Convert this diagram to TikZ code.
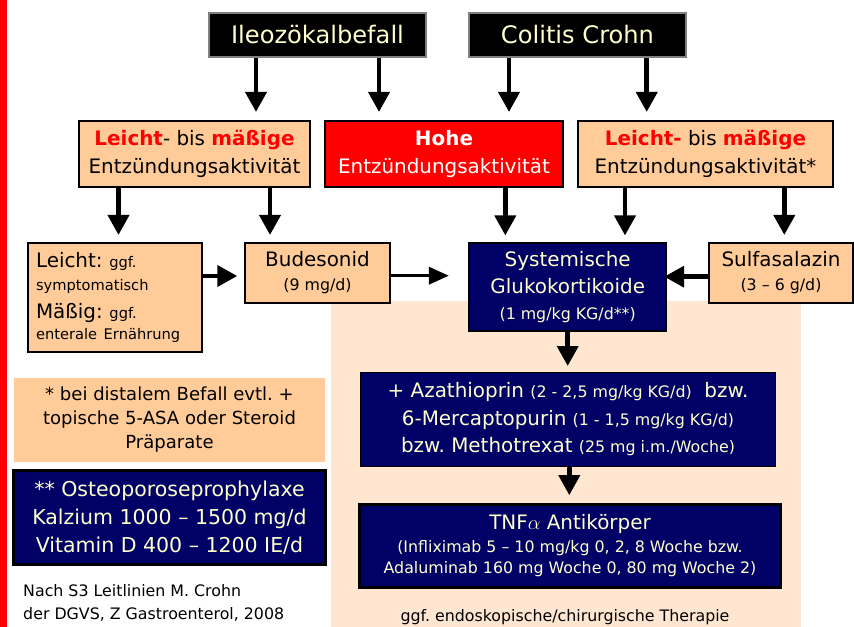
\documentclass[tikz,border=0pt]{standalone}
\usepackage{fontspec}
\setmainfont{DejaVu Sans}
\frenchspacing
\usepackage{amsmath}
\usepackage{xcolor}
\definecolor{pfirsich}{HTML}{FFCC99}
\definecolor{hellpfirsich}{HTML}{FEE6D0}
\definecolor{marine}{HTML}{000066}
\definecolor{hellgelb}{HTML}{FFFFCC}
\newcommand{\fsTitel}{\fontsize{20.6}{25}\selectfont}
\newcommand{\fsText}{\fontsize{17}{23.5}\selectfont}
\newcommand{\fsKlein}{\fontsize{13.5}{18}\selectfont}
\newcommand{\fsKleiner}{\fontsize{12.5}{17}\selectfont}
\newcommand{\fsNote}{\fontsize{15.4}{20.5}\selectfont}
\newcommand{\rotfett}[1]{\textcolor{red}{\textbf{#1}}}
\usepackage{tikz}
\usetikzlibrary{arrows.meta}

\begin{document}
\begin{tikzpicture}[
    x=0.3mm, y=-0.3mm,
    every node/.style={inner sep=0pt, align=center, font=\fsText},
    titel/.style={draw=gray, line width=0.7mm, fill=black, text=hellgelb,
      font=\fsTitel, minimum width=217*\px, minimum height=44*\px},
    stufe/.style={draw=black, line width=0.6mm, fill=pfirsich,
      minimum height=66*\px},
    therapie/.style={draw=black, line width=0.6mm, fill=pfirsich,
      minimum height=60*\px},
    dunkel/.style={draw=black, line width=0.6mm, fill=marine, text=hellgelb},
    pfeil/.style={line width=1.4mm, -{Triangle[width=6.2mm, length=6mm]}},
  ]
    \def\px{0.3mm}                          % 1 Pixel der Vorlage
    \useasboundingbox (0,0) rectangle (854,627);

    % Hintergrund
    \fill[red] (0,0) rectangle (7,627);
    \fill[hellpfirsich] (331,301) rectangle (801,627);

    % Befall
    \node[titel] (ileo)    at (317.5,35) {Ileozökalbefall};
    \node[titel] (colitis) at (577.5,35) {Colitis Crohn};

    % Entzündungsaktivität
    \node[stufe, minimum width=231*\px] (leichtL) at (194.5,154)
      {\rotfett{Leicht}- bis \rotfett{mäßige}\\Entzündungsaktivität};
    \node[stufe, fill=red, text=white, minimum width=238*\px] (hohe) at (444,154)
      {\textbf{Hohe}\\Entzündungsaktivität};
    \node[stufe, minimum width=255*\px] (leichtR) at (705.5,154)
      {\rotfett{Leicht-} bis \rotfett{mäßige}\\Entzündungsaktivität*};

    % Therapie
    \node[therapie, align=left, text width=158*\px, minimum width=174*\px,
      minimum height=109*\px] (sympt) at (115,297.5)
      {Leicht: {\fsKleiner ggf.}\\[-3.6pt]{\fsKleiner symptomatisch}\\Mäßig: {\fsKleiner ggf.}\\[-4.8pt]{\fsKleiner enterale Ernährung}};
    \node[therapie, minimum width=145*\px] (budes) at (317.5,273)
      {Budesonid\\[-3pt]{\fsKlein (9 mg/d)}};
    \node[dunkel, minimum width=197*\px, minimum height=87*\px] (syst) at (567.7,287)
      {Systemische\\Glukokortikoide\\[-1.5pt]{\fsKlein (1 mg/kg KG/d**)}};
    \node[therapie, minimum width=144*\px] (sulfa) at (781,273)
      {Sulfasalazin\\[-3pt]{\fsKlein (3 – 6 g/d)}};

    \node[dunkel, line width=0.5mm, minimum width=415*\px, minimum height=94*\px] (aza) at (568,419.5)
      {+ Azathioprin {\fsKlein (2 - 2,5 mg/kg KG/d)}\ \ bzw.\\
       6-Mercaptopurin {\fsKlein (1 - 1,5 mg/kg KG/d)}\\
       bzw. Methotrexat {\fsKlein (25 mg i.m./Woche)}};
    \node[dunkel, line width=1mm, minimum width=421*\px, minimum height=83*\px] (tnf) at (570,545.7)
      {TNF$\alpha$ Antikörper\\[-3.6pt]
       {\fsKlein (Infliximab 5 – 10 mg/kg 0, 2, 8 Woche bzw.}\\[-5.5pt]
       {\fsKlein Adaluminab 160 mg Woche 0, 80 mg Woche 2)}};
    \node[font=\fsKlein] (chir) at (565,617)
      {ggf. endoskopische/chirurgische Therapie};

    % Fußnoten
    \node[fill=pfirsich, font=\fsNote, minimum width=311*\px, minimum height=84*\px] (note1) at (169.5,419.5)
      {* bei distalem Befall evtl. +\\topische 5-ASA oder Steroid\\Präparate};
    \node[dunkel, line width=1mm, font=\fontsize{17.5}{24}\selectfont,
      minimum width=312*\px, minimum height=94*\px] (note2) at (169.5,517.7)
      {** Osteoporoseprophylaxe\\Kalzium 1000 – 1500 mg/d\\Vitamin D 400 – 1200 IE/d};
    \node[anchor=west, align=left, font=\fontsize{13.5}{19}\selectfont] (quelle) at (23,603)
      {Nach S3 Leitlinien M. Crohn\\der DGVS, Z Gastroenterol, 2008};

    % Pfeile senkrecht
    \draw[pfeil, shorten >=2.4mm] (ileo.south -| 256,0) -- (leichtL.north -| 256,0);
    \draw[pfeil, shorten >=2.4mm] (ileo.south -| 379,0) -- (hohe.north -| 379,0);
    \draw[pfeil, shorten >=2.4mm] (colitis.south -| 509,0) -- (hohe.north -| 509,0);
    \draw[pfeil, shorten >=2.4mm] (colitis.south -| 646.7,0) -- (leichtR.north -| 646.7,0);

    \draw[pfeil, shorten >=2.1mm] (leichtL.south -| 118.5,0) -- (sympt.north -| 118.5,0);
    \draw[pfeil, shorten >=2.1mm] (leichtL.south -| 270,0) -- (budes.north -| 270,0);
    \draw[pfeil, shorten >=2.1mm] (hohe.south -| 505.3,0) -- (syst.north -| 505.3,0);
    \draw[pfeil, shorten >=2.1mm] (leichtR.south -| 625,0) -- (syst.north -| 625,0);
    \draw[pfeil, shorten >=2.1mm] (leichtR.south -| 784.3,0) -- (sulfa.north -| 784.3,0);

    \draw[pfeil, shorten >=1.7mm] (syst.south -| 567.7,0) -- (aza.north -| 567.7,0);
    \draw[pfeil, shorten >=2.2mm] (aza.south -| 569.3,0) -- (tnf.north -| 569.3,0);

    % Pfeile waagerecht
    \draw[pfeil, shorten >=2mm] (sympt.east |- 0,276) -- (budes.west |- 0,276);
    \draw[pfeil, line width=1.05mm, -{Triangle[width=5.1mm, length=6mm]}, shorten >=5.8mm]
      (budes.east |- 0,275.7) -- (syst.west |- 0,275.7);
    \draw[pfeil, shorten >=-0.9mm] (sulfa.west |- 0,276.7) -- (syst.east |- 0,276.7);
  \end{tikzpicture}
\end{document}
